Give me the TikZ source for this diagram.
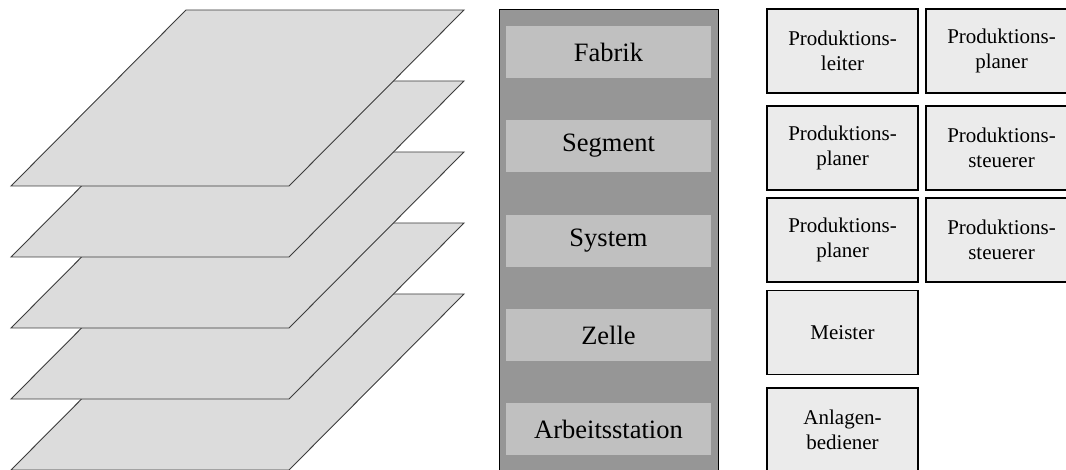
\documentclass[tikz,border=0pt]{standalone}
\usepackage{fontspec}
\setmainfont{Liberation Serif}
\begin{document}
\begin{tikzpicture}[x=1pt,y=-1pt,
  plane/.style={fill=planefill,draw=planeline,line width=0.9pt,line join=miter},
  levelbox/.style={fill=levelfill,draw=none,minimum width=205pt,minimum height=52pt,
    inner sep=0pt,font=\fontsize{26.5}{30}\selectfont},
  rolebox/.style={fill=rolefill,draw=black,line width=1.6pt,minimum width=151pt,
    minimum height=84pt,inner sep=0pt,align=center,font=\fontsize{21}{25}\selectfont}]
\definecolor{planefill}{HTML}{DCDCDC}
\definecolor{planeline}{HTML}{3C3C3C}
\definecolor{columnfill}{HTML}{969696}
\definecolor{levelfill}{HTML}{C0C0C0}
\definecolor{rolefill}{HTML}{EBEBEB}
\useasboundingbox (0,0) rectangle (1066,470);
\clip (0,0) rectangle (1066,470);

% stacked layers, drawn from the bottom up
\foreach \t in {294,223,152,81,10}{
  \draw[plane] (11,\t+176) -- (289,\t+176) -- (464,\t) -- (186,\t) -- cycle;
}

% hierarchy column
\node[draw=black,line width=1.4pt,fill=columnfill,minimum width=219pt,minimum height=480pt,
  inner sep=0pt,anchor=north west] (column) at (499,9) {};
\node[levelbox] (fabrik)  at (608.5,52)  {Fabrik};
\node[levelbox] (segment) at (608.5,146) {Segment};
\node[levelbox] (system)  at (608.5,241) {System};
\node[levelbox] (zelle)   at (608.5,335) {Zelle};
\node[levelbox] (station) at (608.5,429) {Arbeitsstation};

% roles per level
\node[rolebox] (leiter)    at (842.5,51)    {Produktions-\\leiter};
\node[rolebox] (planerA)   at (1001.5,51)   {Produktions-\\planer};
\node[rolebox] (planerB)   at (842.5,148)   {Produktions-\\planer};
\node[rolebox] (steuerA)   at (1001.5,148)  {Produktions-\\steuerer};
\node[rolebox] (planerC)   at (842.5,240)   {Produktions-\\planer};
\node[rolebox] (steuerB)   at (1001.5,240)  {Produktions-\\steuerer};
\node[rolebox] (meister)   at (842.5,332.5) {Meister};
\node[rolebox] (bediener)  at (842.5,430)   {Anlagen-\\bediener};
\end{tikzpicture}
\end{document}
